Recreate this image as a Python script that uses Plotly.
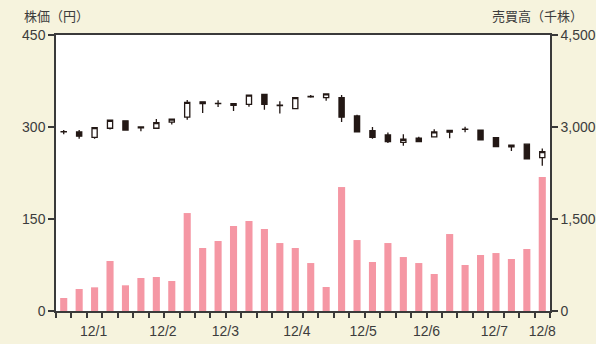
import numpy as np
import plotly.graph_objects as go

# Weekly data (32 weeks)
open_ = [292, 292, 283, 298, 310, 300, 298, 308, 316, 341, 338, 338, 337, 353, 335, 330,
         349, 348, 348, 318, 294, 287, 275, 282, 284, 294.5, 296, 295, 282.5, 270.5, 272, 250]
high = [295, 295, 300, 312, 311, 300.5, 313, 313.5, 344, 341.5, 343.5, 338.5, 352.5, 353.5, 342, 349,
        352, 354.5, 352, 320, 300, 291, 288, 284, 296.5, 294.5, 300.5, 295.5, 283, 271, 272.5, 265]
low = [288, 281, 281, 296, 294, 293, 297, 304, 312, 323, 332.5, 326, 333, 328, 322, 329,
       347.5, 343, 308, 291, 281, 274, 269.5, 275.5, 283.5, 281.5, 291.3, 278, 267, 261, 247, 237]
close = [292.5, 285, 299, 311, 295, 298.5, 307, 313, 340, 338, 338.5, 335.5, 352, 337, 335.5, 348,
         350, 354, 316, 292, 283, 276, 280, 276, 292, 291.5, 296.5, 279, 268, 267.5, 248, 260]
volume = [212, 359, 386, 815, 419, 538, 554, 489, 1597, 1027, 1141, 1386, 1467, 1337, 1108, 1027,
          782, 391, 2021, 1157, 799, 1108, 880, 782, 603, 1255, 750, 913, 945, 848, 1011, 2184]

tick_pos = [2.44, 6.93, 10.97, 15.6, 19.9, 24.0, 28.4, 31.5]
tick_labels = ["12/1", "12/2", "12/3", "12/4", "12/5", "12/6", "12/7", "12/8"]

price_ticks = [0, 150, 300, 450]
vol_ticks = [0, 1500, 3000, 4500]

x = np.arange(len(volume)) + 0.5

INK = "#231815"
AXIS = "#3a3a3a"
TXT = "#3c3c3c"
FONT = "Liberation Sans, Arial, sans-serif"
JFONT = "Noto Sans CJK JP"

W, H = 596, 344
L, R, T, B = 56, 46, 35, 33
PW, PH = W - L - R, H - T - B

fig = go.Figure()
fig.add_trace(go.Bar(x=x, y=volume, yaxis="y2", marker=dict(color="#f597a4", line=dict(width=0)),
                     width=0.46, showlegend=False, hoverinfo="skip"))
fig.add_trace(go.Candlestick(
    x=x, open=open_, high=high, low=low, close=close,
    increasing=dict(line=dict(color=INK, width=1.3), fillcolor="white"),
    decreasing=dict(line=dict(color=INK, width=1.3), fillcolor=INK),
    whiskerwidth=0, showlegend=False, yaxis="y"))

fig.update_layout(
    width=W, height=H,
    margin=dict(l=L, r=R, t=T, b=B, autoexpand=False),
    paper_bgcolor="#f6f3dd", plot_bgcolor="white",
    boxgap=0.52,
    font=dict(family=FONT, size=14, color=TXT),
    xaxis=dict(range=[0, 32], rangeslider=dict(visible=False), automargin=False,
               tickmode="array", tickvals=tick_pos, ticktext=tick_labels,
               ticks="outside", ticklen=6, tickcolor="rgba(0,0,0,0)",
               showline=True, linecolor=AXIS, linewidth=1.5, mirror=True,
               showgrid=False, zeroline=False,
               minor=dict(ticks="outside", ticklen=5, tickcolor=AXIS, tickwidth=1.5,
                          dtick=1, tick0=0, showgrid=False),
               tickfont=dict(family=FONT, size=14, color=TXT)),
    yaxis=dict(range=[0, 450], tickmode="array", tickvals=price_ticks, automargin=False,
               ticks="outside", ticklen=6, tickcolor=AXIS, tickwidth=1.5,
               showline=True, linecolor=AXIS, linewidth=1.5,
               showgrid=False, zeroline=False,
               tickfont=dict(family=FONT, size=14, color=TXT)),
    yaxis2=dict(range=[0, 4500], overlaying="y", side="right", tickmode="array", automargin=False,
                tickvals=vol_ticks, tickformat=",d",
                ticks="outside", ticklen=6, tickcolor=AXIS, tickwidth=1.5,
                showline=True, linecolor=AXIS, linewidth=1.5,
                showgrid=False, zeroline=False,
                tickfont=dict(family=FONT, size=14, color=TXT)),
    annotations=[
        dict(text="株価（円）", xref="paper", yref="paper", showarrow=False,
             x=(22 - L) / PW, y=1 - (16 - T) / PH, xanchor="left", yanchor="middle",
             font=dict(family=JFONT, size=13, color=TXT)),
        dict(text="売買高（千株）", xref="paper", yref="paper", showarrow=False,
             x=(585 - L) / PW, y=1 - (16 - T) / PH, xanchor="right", yanchor="middle",
             font=dict(family=JFONT, size=13, color=TXT)),
    ],
)

fig.write_html("out.html",
               config={"displayModeBar": False},
               post_script="document.body.style.margin='0';document.body.style.padding='0';"
                           "document.body.style.overflow='hidden';")
